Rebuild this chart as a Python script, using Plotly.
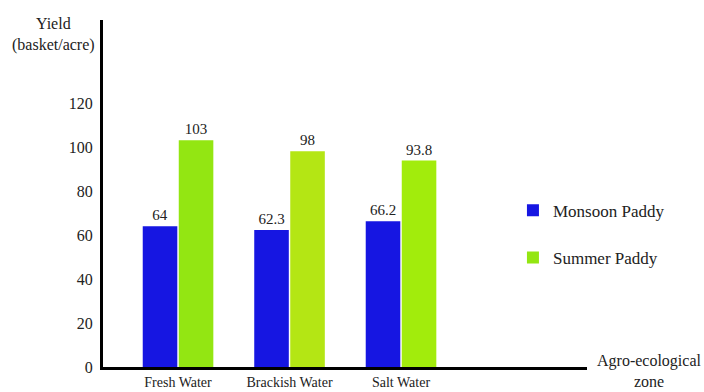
import plotly.graph_objects as go

zones = ["Fresh Water", "Brackish Water", "Salt Water"]
monsoon = [64, 62.3, 66.2]
summer = [103, 98, 93.8]
monsoon_labels = ["64", "62.3", "66.2"]
summer_labels = ["103", "98", "93.8"]
y_ticks = [0, 20, 40, 60, 80, 100, 120]

FONT = "'Liberation Serif', 'Times New Roman', Times, serif"
blue = "#1616E2"
greens = ["#93E612", "#B4E614", "#A2EC0C"]

fig = go.Figure()
fig.add_trace(go.Bar(
    x=zones, y=monsoon, name="Monsoon Paddy",
    marker=dict(color=blue, line=dict(width=0)),
    text=monsoon_labels, textposition="outside", cliponaxis=False,
    textfont=dict(family=FONT, size=15, color="#222"),
    legendgroup="a",
))
fig.add_trace(go.Bar(
    x=zones, y=summer, name="Summer Paddy",
    marker=dict(color=greens, line=dict(width=0)),
    text=summer_labels, textposition="outside", cliponaxis=False,
    textfont=dict(family=FONT, size=15, color="#222"),
    legendgroup="b",
))

fig.update_layout(
    width=704, height=392,
    margin=dict(l=103, r=117, t=20, b=25),
    paper_bgcolor="white", plot_bgcolor="white",
    barmode="group", bargap=0.354, bargroupgap=0.04,
    font=dict(family=FONT, size=15, color="#222"),
    showlegend=True,
    legend=dict(
        x=0.847, xanchor="left", y=0.502, yanchor="top",
        traceorder="grouped", tracegroupgap=22,
        font=dict(family=FONT, size=17, color="#222"),
        bgcolor="rgba(0,0,0,0)",
    ),
)
fig.update_xaxes(
    range=[-0.673, 3.668], showline=True, linewidth=3, linecolor="black",
    showgrid=False, zeroline=False, ticks="", ticklabelstandoff=0,
    automargin=False,
    tickfont=dict(family=FONT, size=14, color="#222"),
)
fig.update_yaxes(
    range=[0, 157.7], showline=True, linewidth=3, linecolor="black",
    showgrid=False, zeroline=False, ticks="", tickvals=y_ticks,
    automargin=False,
    tickfont=dict(family=FONT, size=16, color="#222"), ticklabelstandoff=4,
)
fig.add_annotation(
    text="Yield<br>(basket/acre)", xref="paper", yref="paper",
    x=-50/484, xanchor="center", y=1.0, yanchor="bottom",
    yshift=-36, showarrow=False, font=dict(family=FONT, size=16, color="#222"),
)
fig.add_annotation(
    text="Agro-ecological<br>zone", xref="paper", yref="paper",
    x=1.0, xanchor="left", xshift=8, y=0, yanchor="top", yshift=17,
    showarrow=False, font=dict(family=FONT, size=16, color="#222"),
)

fig.write_html("out.html")
